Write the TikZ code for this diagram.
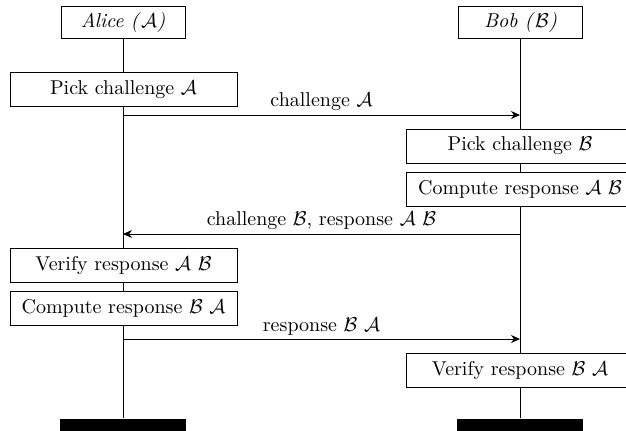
\documentclass[tikz,border=0pt]{standalone}
\usetikzlibrary{arrows.meta}
\begin{document}
\begin{tikzpicture}[x=0.5pt,y=-0.5pt,
  line width=0.5pt,
  inst/.style={draw,fill=white,minimum width=62pt,minimum height=16pt,inner sep=2pt},
  actbox/.style={draw,fill=white,minimum width=113.5pt,minimum height=17pt,inner sep=2pt},
  endbar/.style={fill=black,minimum width=63pt,minimum height=12pt,inner sep=0pt,anchor=north},
  msg/.style={-{Stealth[length=4.5pt,width=4pt]}},
  lbl/.style={above,inner sep=1.8pt}]
\useasboundingbox (0,0) rectangle (626,430);
\clip (0,0) rectangle (626,430);
% instances
\node[inst] (alice) at (123,22) {\textit{Alice (}$\mathcal{A}$\textit{)}};
\node[inst] (bob) at (520.5,22) {\textit{Bob (}$\mathcal{B}$\textit{)}};
% end bars
\node[endbar] (aend) at (123,418) {};
\node[endbar] (bend) at (520,418) {};
% lifelines
\draw (alice.south) -- (aend.north);
\draw (bob.south -| bend.north) -- (bend.north);
% actions
\node[actbox] (pickA) at (123.5,89.5) {Pick challenge $\mathcal{A}$};
\node[actbox] (pickB) at (520,146) {Pick challenge $\mathcal{B}$};
\node[actbox] (compAB) at (520,189) {Compute response $\mathcal{A}$ $\mathcal{B}$};
\node[actbox] (verAB) at (123.5,265.5) {Verify response $\mathcal{A}$ $\mathcal{B}$};
\node[actbox] (compBA) at (123.5,308) {Compute response $\mathcal{B}$ $\mathcal{A}$};
\node[actbox] (verBA) at (520,370) {Verify response $\mathcal{B}$ $\mathcal{A}$};
% messages
\coordinate (m1a) at (123,115);
\coordinate (m1b) at (520,115);
\coordinate (m2b) at (520,234);
\coordinate (m2a) at (123,234);
\coordinate (m3a) at (123,339);
\coordinate (m3b) at (520,339);
\draw[msg] (m1a) -- node[lbl] (l1) {challenge $\mathcal{A}$} (m1b);
\draw[msg] (m2b) -- node[lbl] (l2) {challenge $\mathcal{B}$, response $\mathcal{A}$ $\mathcal{B}$} (m2a);
\draw[msg] (m3a) -- node[lbl] (l3) {response $\mathcal{B}$ $\mathcal{A}$} (m3b);
\end{tikzpicture}
\end{document}
